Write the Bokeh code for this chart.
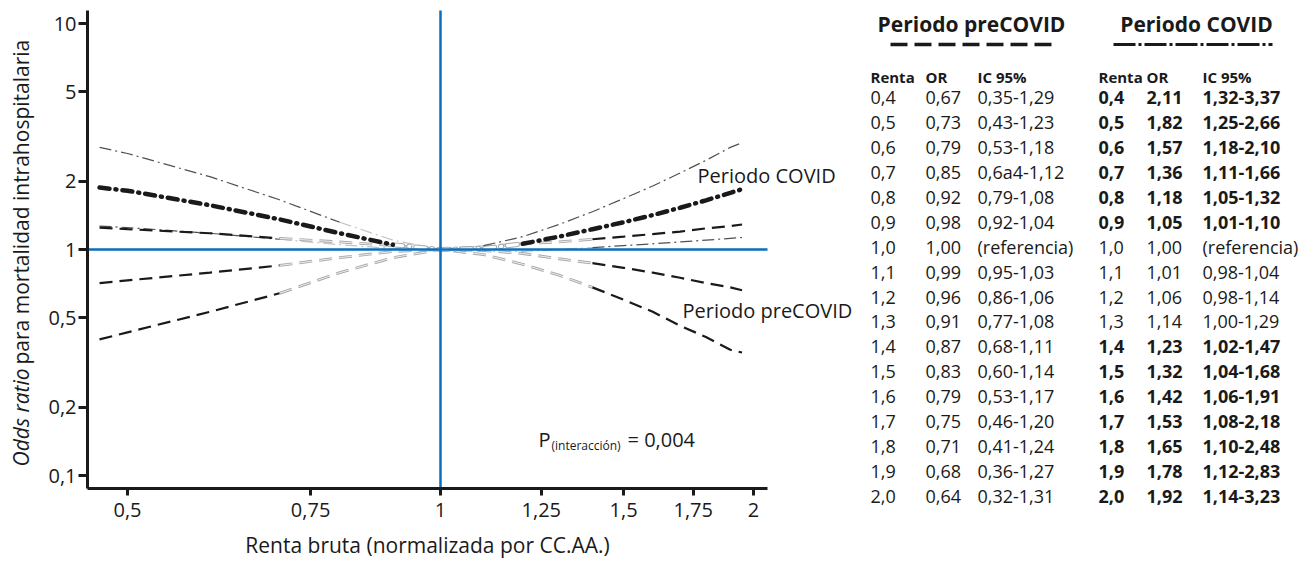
import math
from bokeh.plotting import figure
from bokeh.models import Range1d, FixedTicker, CustomJSTickFormatter, LinearScale
from bokeh.core.properties import value
from bokeh.embed import file_html
from bokeh.resources import INLINE

FONT = "Open Sans"
INK = "#1a1a1a"
BLUE = "#0a6ebd"

# ---------------- data (table + curves) ----------------
renta = [0.4, 0.5, 0.6, 0.7, 0.8, 0.9, 1.0, 1.1, 1.2, 1.3, 1.4, 1.5, 1.6, 1.7, 1.8, 1.9, 2.0]
renta_txt = ["0,4", "0,5", "0,6", "0,7", "0,8", "0,9", "1,0", "1,1", "1,2", "1,3",
             "1,4", "1,5", "1,6", "1,7", "1,8", "1,9", "2,0"]

pre_or = [0.67, 0.73, 0.79, 0.85, 0.92, 0.98, 1.00, 0.99, 0.96, 0.91, 0.87, 0.83, 0.79, 0.75, 0.71, 0.68, 0.64]
pre_lo = [0.35, 0.43, 0.53, 0.64, 0.79, 0.92, 1.00, 0.95, 0.86, 0.77, 0.68, 0.60, 0.53, 0.46, 0.41, 0.36, 0.32]
pre_hi = [1.29, 1.23, 1.18, 1.12, 1.08, 1.04, 1.00, 1.03, 1.06, 1.08, 1.11, 1.14, 1.17, 1.20, 1.24, 1.27, 1.31]
pre_or_txt = ["0,67", "0,73", "0,79", "0,85", "0,92", "0,98", "1,00", "0,99", "0,96", "0,91",
              "0,87", "0,83", "0,79", "0,75", "0,71", "0,68", "0,64"]
pre_ic_txt = ["0,35-1,29", "0,43-1,23", "0,53-1,18", "0,6a4-1,12", "0,79-1,08", "0,92-1,04",
              "(referencia)", "0,95-1,03", "0,86-1,06", "0,77-1,08", "0,68-1,11", "0,60-1,14",
              "0,53-1,17", "0,46-1,20", "0,41-1,24", "0,36-1,27", "0,32-1,31"]

cov_or = [2.11, 1.82, 1.57, 1.36, 1.18, 1.05, 1.00, 1.01, 1.06, 1.14, 1.23, 1.32, 1.42, 1.53, 1.65, 1.78, 1.92]
cov_lo = [1.32, 1.25, 1.18, 1.11, 1.05, 1.01, 1.00, 0.98, 0.98, 1.00, 1.02, 1.04, 1.06, 1.08, 1.10, 1.12, 1.14]
cov_hi = [3.37, 2.66, 2.10, 1.66, 1.32, 1.10, 1.00, 1.04, 1.14, 1.29, 1.47, 1.68, 1.91, 2.18, 2.48, 2.83, 3.23]
cov_or_txt = ["2,11", "1,82", "1,57", "1,36", "1,18", "1,05", "1,00", "1,01", "1,06", "1,14",
              "1,23", "1,32", "1,42", "1,53", "1,65", "1,78", "1,92"]
cov_ic_txt = ["1,32-3,37", "1,25-2,66", "1,18-2,10", "1,11-1,66", "1,05-1,32", "1,01-1,10",
              "(referencia)", "0,98-1,04", "0,98-1,14", "1,00-1,29", "1,02-1,47", "1,04-1,68",
              "1,06-1,91", "1,08-2,18", "1,10-2,48", "1,12-2,83", "1,14-3,23"]
cov_bold = [True, True, True, True, True, True, False, False, False, False,
            True, True, True, True, True, True, True]

# curve end points as read on the chart (curves run from ~0.47 to ~1.95)
curve_x = [0.47] + renta[1:-1] + [1.95]
pre_or_curve = [0.71] + pre_or[1:-1] + [0.66]
pre_lo_curve = [0.40] + pre_lo[1:-1] + [0.35]
pre_hi_curve = [1.25] + pre_hi[1:-1] + [1.29]
cov_or_curve = [1.88] + cov_or[1:-1] + [1.85]
cov_lo_curve = [1.27] + cov_lo[1:-1] + [1.13]
cov_hi_curve = [2.83] + cov_hi[1:-1] + [2.97]

x_ticks = [0.5, 0.75, 1, 1.25, 1.5, 1.75, 2]
y_ticks = [0.1, 0.2, 0.5, 1, 2, 5, 10]

# ---------------- page geometry (pixels) ----------------
W, H = 1307, 561
X1_PX, PX_OCT = 440, 313      # x = 1 position, pixels per doubling
Y1_PX, PX_DEC = 249, 226      # y = 1 position, pixels per decade
AX_L, AX_R, AX_T, AX_B = 87, 767, 10, 488


def xd(px):
    return 2 ** ((px - X1_PX) / PX_OCT)


def yd(py):
    return 10 ** ((Y1_PX - py) / PX_DEC)


p = figure(width=W, height=H, x_axis_type="log", y_axis_type="log",
           x_range=Range1d(xd(0), xd(W)), y_range=Range1d(yd(H), yd(0)),
           extra_x_ranges={"tx": Range1d(0, W)}, extra_y_ranges={"ty": Range1d(H, 0)},
           extra_x_scales={"tx": LinearScale()}, extra_y_scales={"ty": LinearScale()},
           min_border=0, output_backend="svg", toolbar_location=None)
p.xgrid.visible = False
p.ygrid.visible = False
p.outline_line_color = None

fmt = "return tick.toString().replace('.', ',');"
for ax in (p.xaxis[0], p.yaxis[0]):
    ax.axis_line_width = 3
    ax.axis_line_color = INK
    ax.major_tick_line_width = 3
    ax.major_tick_line_color = INK
    ax.major_tick_in = 0
    ax.minor_tick_line_color = None
    ax.major_label_text_font = FONT
    ax.major_label_text_font_size = "20px"
    ax.major_label_text_color = INK
    ax.formatter = CustomJSTickFormatter(code=fmt)
p.xaxis.ticker = FixedTicker(ticks=x_ticks)
p.yaxis.ticker = FixedTicker(ticks=y_ticks)
p.xaxis.fixed_location = yd(AX_B)
p.yaxis.fixed_location = xd(AX_L)
p.xaxis.bounds = (xd(AX_L), xd(AX_R))
p.yaxis.bounds = (yd(AX_B), yd(AX_T))
p.xaxis.major_tick_out = 7
p.yaxis.major_tick_out = 9
p.xaxis.major_label_standoff = 7
p.yaxis.major_label_standoff = 2
p.xaxis.axis_label = "Renta bruta (normalizada por CC.AA.)"
p.xaxis.axis_label_text_font = FONT
p.xaxis.axis_label_text_font_size = "21px"
p.xaxis.axis_label_text_font_style = "normal"
p.xaxis.axis_label_text_color = INK
p.xaxis.axis_label_standoff = 11


def split(xs, ys, a, b):
    left = [(x, y) for x, y in zip(xs, ys) if x <= a]
    mid = [(x, y) for x, y in zip(xs, ys) if a <= x <= b]
    right = [(x, y) for x, y in zip(xs, ys) if x >= b]
    return left, mid, right


PRE_DASH = "13 7"
CI_DASH = "12 4 2 4"
COV_DASH = "10 6 1 6"

series = [  # values, grey interval, colour, width, dash, cap, hollow
    (cov_hi_curve, 0.8, 1.1, "#505050", 1.2, CI_DASH, "butt", False),
    (cov_lo_curve, 0.7, 1.4, "#505050", 1.2, CI_DASH, "butt", False),
    (pre_lo_curve, 0.7, 1.4, INK, 2.2, PRE_DASH, "butt", True),
    (pre_hi_curve, 0.7, 1.4, INK, 2.2, PRE_DASH, "butt", True),
    (pre_or_curve, 0.7, 1.4, INK, 2.2, PRE_DASH, "butt", True),
    (cov_or_curve, 0.9, 1.2, INK, 4.5, COV_DASH, "round", True),
]

# non-significant (grey, hollow) stretches first
for ys_, a, b, col, w, dash, cap, hollow in series:
    _, mid, _ = split(curve_x, ys_, a, b)
    mx, my = [m[0] for m in mid], [m[1] for m in mid]
    if hollow:
        p.line(mx, my, line_color="#a8a8a8", line_width=w + 0.6, line_dash=dash, line_cap=cap)
        p.line(mx, my, line_color="white", line_width=max(w - 1.4, 0.7), line_dash=dash, line_cap=cap)
    else:
        p.line(mx, my, line_color="#c4c4c4", line_width=w, line_dash=dash, line_cap=cap)

# reference lines at OR = 1 and renta = 1
p.line([1, 1], [yd(AX_B), yd(AX_T)], line_color=BLUE, line_width=2.5)
p.line([xd(AX_L), xd(AX_R)], [1, 1], line_color=BLUE, line_width=2.5)

# dark stretches on top
for ys_, a, b, col, w, dash, cap, hollow in series:
    left, _, right = split(curve_x, ys_, a, b)
    for seg in (left, right):
        p.line([s[0] for s in seg], [s[1] for s in seg], line_color=col,
               line_width=w, line_dash=dash, line_cap=cap)


def ptext(x, y, text, size="18px", style="normal", align="left", baseline="middle", angle=0):
    p.text(x=x, y=y, text=text, angle=angle, text_font=value(FONT), text_font_size=size,
           text_font_style=style, text_align=align, text_baseline=baseline, text_color=INK,
           x_range_name="tx", y_range_name="ty")


# chart annotations
ptext([697], [175], ["Periodo COVID"], size="20px")
ptext([682], [310], ["Periodo preCOVID"], size="20px")
ptext([538], [439], ["P"], size="20px")
ptext([551], [445], ["(interacción)"], size="12px")
ptext([627], [439], ["= 0,004"], size="20px")

# y-axis title: italic "Odds ratio" followed by regular text
ptext([20], [466], ["Odds ratio"], size="21px", style="italic", angle=math.pi / 2)
ptext([20], [364], ["para mortalidad intrahospitalaria"], size="21px", angle=math.pi / 2)

# ---------------- table ----------------
ROW0, ROW_H = 97, 24.94
COLS = [870, 925, 977, 1098, 1146, 1202]
rows_y = [ROW0 + ROW_H * i for i in range(len(renta))]

ptext([971, 1196], [23, 23], ["Periodo preCOVID", "Periodo COVID"], size="21px", style="bold",
      align="center")
p.line([890, 1052], [44, 44], line_color=INK, line_width=3.5, line_dash="17 7",
       x_range_name="tx", y_range_name="ty")
p.line([1113, 1272], [44, 44], line_color=INK, line_width=3, line_dash="22 3 3 3",
       x_range_name="tx", y_range_name="ty")

ptext(COLS, [76] * 6, ["Renta", "OR", "IC 95%", "Renta", "OR", "IC 95%"], size="15px", style="bold")

n = len(renta)
ptext([COLS[0]] * n, rows_y, renta_txt)
ptext([COLS[1]] * n, rows_y, pre_or_txt)
ptext([COLS[2]] * n, rows_y, pre_ic_txt)
for bold in (True, False):
    idx = [i for i in range(n) if cov_bold[i] == bold]
    yy = [rows_y[i] for i in idx]
    st = "bold" if bold else "normal"
    ptext([COLS[3]] * len(idx), yy, [renta_txt[i] for i in idx], style=st)
    ptext([COLS[4]] * len(idx), yy, [cov_or_txt[i] for i in idx], style=st)
    ptext([COLS[5]] * len(idx), yy, [cov_ic_txt[i] for i in idx], style=st)

open("out.html", "w").write(file_html(p, INLINE))
